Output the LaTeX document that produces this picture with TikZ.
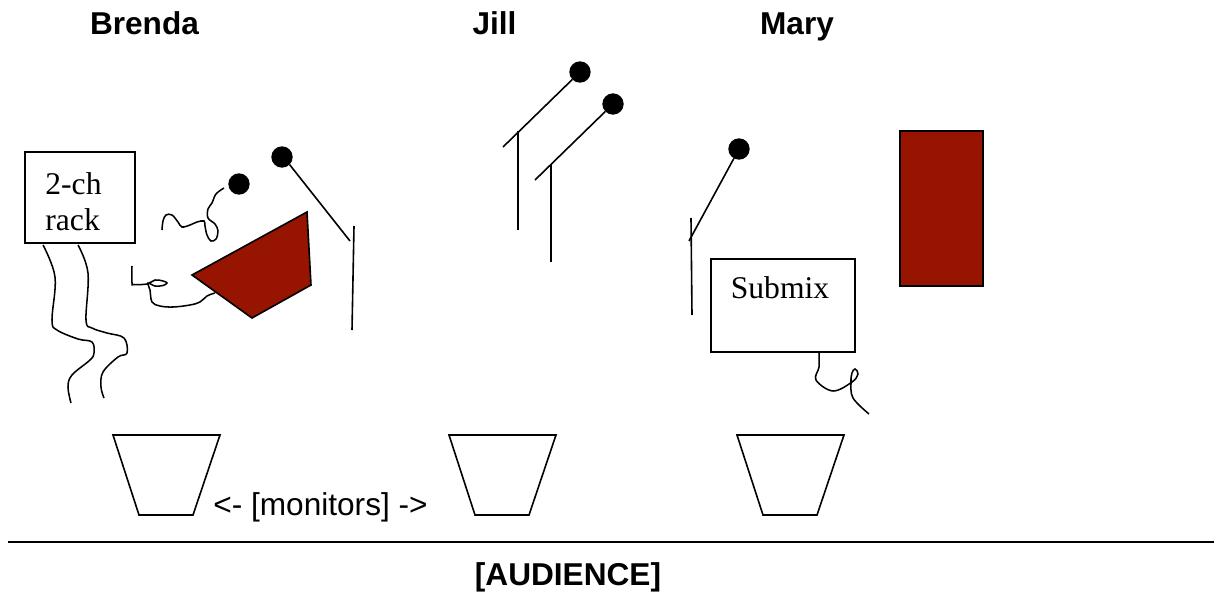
\documentclass[tikz,border=0pt]{standalone}
\usepackage{xcolor}
\usepackage{fontspec}
\setmainfont{Liberation Serif}
\setsansfont{Liberation Sans}
\definecolor{ampred}{RGB}{150, 20, 0}
\usetikzlibrary{shapes, positioning, calc}

\begin{document}
\begin{tikzpicture}[
    x=0.75pt, y=-0.75pt,
    every path/.style={line width=1.2pt},
    person/.style={anchor=base, font=\sffamily\bfseries\fontsize{23.7}{27}\selectfont},
    word/.style={font=\fontsize{23.7}{27}\selectfont, align=left, inner sep=0pt},
    ball/.style={circle, fill=black, minimum size=16pt, inner sep=0pt, outer sep=0pt},
    cable/.style={line width=1.15pt, smooth, tension=0.6},
    monitor/.style={draw, fill=white}
]
    \useasboundingbox (0, 0) rectangle (1214, 592);

    % Names
    \node[person] (brenda) at (144.5, 35) {Brenda};
    \node[person] (jill) at (494.5, 35) {Jill};
    \node[person] (mary) at (797, 35) {Mary};

    % Brenda side
    \node[draw, minimum width=82.5pt, minimum height=68.25pt] (rack) at (80, 197.5) {};
    \node[word] (racktext) at (73.5, 201.5) {2-ch\\rack};

    \node[ball] (b1) at (282, 157) {};
    \node[ball] (b2) at (239, 184) {};
    \coordinate (s1) at (350, 241);
    \draw (b1.south east) -- (s1);
    \coordinate (s1top) at (354, 226);
    \coordinate (s1bot) at (352, 330);
    \draw (s1top) -- (s1bot);

    \draw[fill=ampred] (307, 212) -- (311, 285) -- (252, 318) -- (192, 275) -- cycle;

    % Cables
    \draw[cable] plot coordinates {(224, 188) (216, 194) (212, 203) (208, 209) (208, 218) (215, 224) (218, 231) (216, 239) (211, 241) (207, 235) (205, 226) (204, 221) (197, 222) (190, 225) (182, 227) (178, 222) (172, 215) (166, 215) (163, 221) (162, 230)};
    \draw[cable] plot coordinates {(132, 266) (132, 283) (134, 284.5) (147, 284) (155, 280) (163, 281) (167, 283) (163, 285.5) (155, 286) (148, 283) (150, 290) (152, 302) (160, 306) (173, 307) (190, 305) (200, 302) (207, 296) (215, 293)};
    \draw[cable] plot coordinates {(43, 245) (55, 277) (52, 320) (57, 330) (78, 339) (92, 342) (94, 353) (90, 360) (72, 375) (68, 387) (71, 403)};
    \draw[cable] plot coordinates {(78, 245) (88, 273) (86, 320) (92, 328) (107, 333) (124, 338) (127, 353) (118, 357) (103, 372) (101, 387) (104, 398)};

    % Jill side
    \node[ball] (j1) at (580, 72) {};
    \node[ball] (j2) at (613, 104) {};
    \coordinate (j1foot) at (503, 147);
    \coordinate (j2foot) at (535, 180);
    \draw (j1) -- (j1foot);
    \draw (j2) -- (j2foot);
    \coordinate (j1top) at (518, 131);
    \coordinate (j1bot) at (518, 230);
    \coordinate (j2top) at (551, 164);
    \coordinate (j2bot) at (551, 262);
    \draw (j1top) -- (j1bot);
    \draw (j2top) -- (j2bot);

    % Mary side
    \node[ball] (m1) at (739, 149) {};
    \coordinate (m1foot) at (689, 241);
    \draw (m1) -- (m1foot);
    \coordinate (m1top) at (691, 218);
    \coordinate (m1bot) at (692, 315);
    \draw (m1top) -- (m1bot);

    \node[draw, minimum width=108pt, minimum height=69.75pt] (submix) at (783, 305.5) {};
    \node[word] (submixtext) at (780, 288) {Submix};
    \draw[cable] plot coordinates {(819, 353) (819, 367) (816, 380) (833, 391) (852, 382) (858, 374) (855, 369) (852, 373) (851, 382) (853, 398) (869, 414)};

    \node[draw, fill=ampred, minimum width=62.25pt, minimum height=116.25pt] (bass) at (941.5, 208.5) {};

    % Monitors
    \draw[monitor] (113, 435) -- (220, 435) -- (193, 515) -- (139, 515) -- cycle;
    \draw[monitor] (449, 435) -- (556, 435) -- (529, 515) -- (475, 515) -- cycle;
    \draw[monitor] (737, 435) -- (844, 435) -- (817, 515) -- (763, 515) -- cycle;
    \node[font=\sffamily\fontsize{23.7}{27}\selectfont] (monitors) at (320.5, 507) {<- [monitors] ->};

    % Audience
    \coordinate (edgeleft) at (8, 542);
    \coordinate (edgeright) at (1214, 542);
    \draw (edgeleft) -- (edgeright);
    \node[person] (audience) at (568, 585) {[AUDIENCE]};
\end{tikzpicture}
\end{document}
